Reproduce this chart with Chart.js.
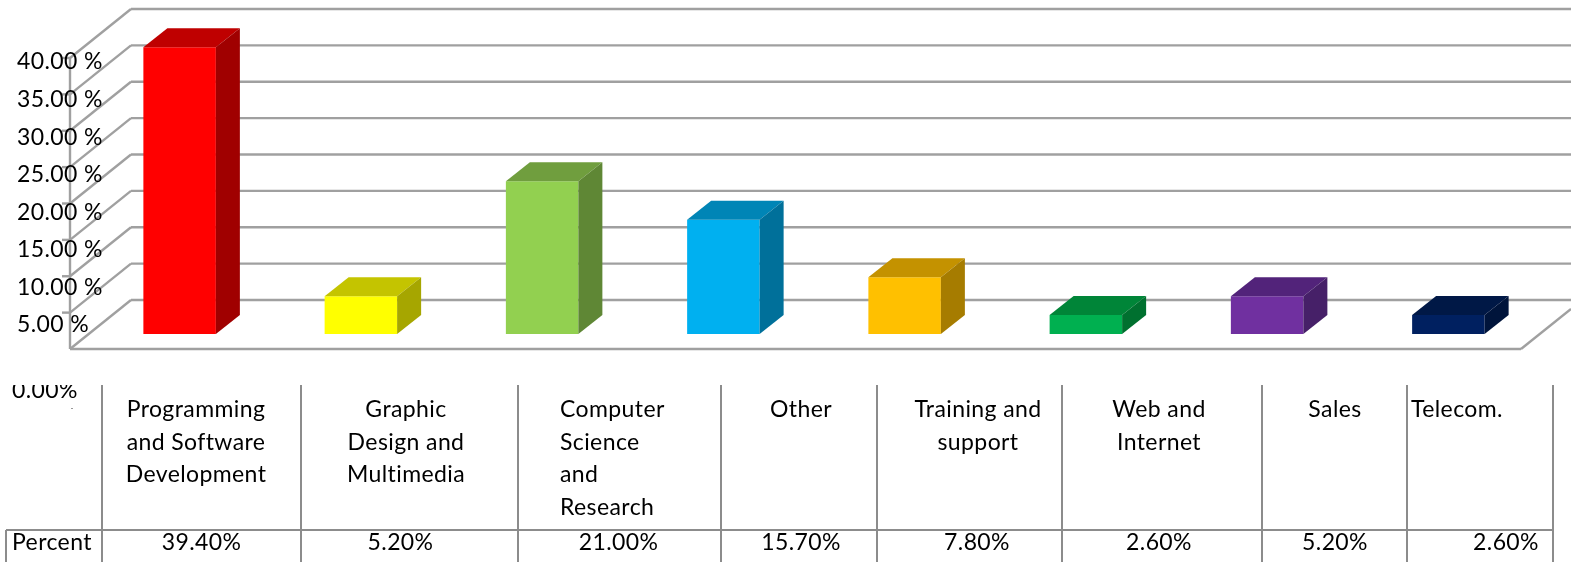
<!DOCTYPE html>
<html>
<head>
<meta charset="utf-8">
<style>html,body{margin:0;padding:0;background:#fff}canvas{display:block}</style>
<script src="https://cdn.jsdelivr.net/npm/chart.js@4"></script>
</head>
<body>
<canvas id="c" width="1571" height="562"></canvas>
<script>
const categories = ["Programming and Software Development", "Graphic Design and Multimedia", "Computer Science and Research", "Other", "Training and support", "Web and Internet", "Sales", "Telecom."];
const percents = [39.4, 5.2, 21.0, 15.7, 7.8, 2.6, 5.2, 2.6];
const barColors = ["#ff0000", "#ffff00", "#92d050", "#00b0f0", "#ffc000", "#00b050", "#7030a0", "#002060"];
const topColors = ["#bf0000", "#c4c400", "#709e3e", "#0085b6", "#c49200", "#008538", "#52237a", "#001846"];
const sideColors = ["#a00000", "#a6a600", "#5f8735", "#00709a", "#a67c00", "#00702f", "#462068", "#00143b"];
const yTicks = [5, 10, 15, 20, 25, 30, 35, 40];
const catLines = [["Programming", "and Software", "Development"], ["Graphic", "Design and", "Multimedia"], ["Computer", "Science", "and", "Research"], ["Other"], ["Training and", "support"], ["Web and", "Internet"], ["Sales"], ["Telecom."]];
const percentLabels = ["39.40%", "5.20%", "21.00%", "15.70%", "7.80%", "2.60%", "5.20%", "2.60%"];

const columnEdges = [102, 301, 518, 721, 877, 1062, 1262, 1407, 1553];
const labelCenters = [196, 406, 613, 801, 978, 1159, 1335, 1457];
const valueCenters = [201.5, 400.5, 618.5, 801, 977, 1159, 1335, 1506];
const GRID = "#a0a0a0", TABLE_LINE = "#8c8c8c";
const DEPTH_X = 24, DEPTH_Y = 19;   // bar depth
const WALL_X = 61, WALL_Y = 49;     // side wall depth
const FONT = "23px Lato";

function seg(ctx, x1, y1, x2, y2) { ctx.beginPath(); ctx.moveTo(x1, y1); ctx.lineTo(x2, y2); ctx.stroke(); }
function poly(ctx, pts, color) {
  ctx.fillStyle = color; ctx.beginPath();
  pts.forEach((p, i) => i ? ctx.lineTo(p[0], p[1]) : ctx.moveTo(p[0], p[1]));
  ctx.closePath(); ctx.fill();
}

// стенка и пол псевдо-3D
const wallsPlugin = {
  id: "walls",
  beforeDatasetsDraw(chart) {
    const { ctx } = chart, y = chart.scales.y;
    const front = (v) => y.getPixelForValue(v) + 15;
    const wallX = 70;
    ctx.save();
    ctx.strokeStyle = GRID; ctx.lineWidth = 2.4;
    seg(ctx, wallX, front(0), wallX, front(40));
    [0, ...yTicks].forEach((v) => {
      const fy = front(v);
      seg(ctx, wallX, fy, wallX + WALL_X, fy - WALL_Y);
      seg(ctx, wallX + WALL_X, fy - WALL_Y, 1571, fy - WALL_Y);
      if (v > 0) seg(ctx, wallX - 8, fy, wallX, fy);
    });
    seg(ctx, wallX, front(0), 1521, front(0));
    seg(ctx, 1521, front(0), 1571, front(0) - 40);
    ctx.restore();
  },
  afterDatasetsDraw(chart) {
    const { ctx } = chart;
    chart.getDatasetMeta(0).data.forEach((bar, i) => {
      const l = bar.x - bar.width / 2, r = bar.x + bar.width / 2, t = bar.y, b = bar.base;
      poly(ctx, [[l, t], [r, t], [r + DEPTH_X, t - DEPTH_Y], [l + DEPTH_X, t - DEPTH_Y]], topColors[i]);
      poly(ctx, [[r, t], [r + DEPTH_X, t - DEPTH_Y], [r + DEPTH_X, b - DEPTH_Y], [r, b]], sideColors[i]);
    });
  },
};

// подписи оси и таблица данных под графиком
const tablePlugin = {
  id: "table",
  afterDraw(chart) {
    const { ctx } = chart, y = chart.scales.y;
    ctx.save();
    ctx.fillStyle = "#000"; ctx.font = FONT; ctx.textBaseline = "middle";
    ctx.letterSpacing = "0.4px";
    ctx.textAlign = "left";
    yTicks.forEach((v) => {
      ctx.fillText(v.toFixed(2) + " %", 17, y.getPixelForValue(v) + 19 + (40 - v) * 0.24);
    });

    ctx.save();
    ctx.beginPath(); ctx.rect(0, 385, 100, 30); ctx.clip();
    ctx.fillText("0.00%", 12, 391);
    ctx.restore();
    ctx.fillStyle = "#999"; ctx.fillRect(71, 408, 2, 1);

    ctx.strokeStyle = TABLE_LINE; ctx.lineWidth = 2;
    columnEdges.forEach((x) => seg(ctx, x, 385, x, 562));
    seg(ctx, 6, 530, 1553, 530);
    seg(ctx, 6, 530, 6, 562);

    ctx.fillStyle = "#000";
    ctx.textAlign = "left";
    ctx.fillText("Percent", 12, 543);
    catLines.forEach((lines, i) => {
      lines.forEach((s, j) => {
        const ly = 410 + j * 32.4;
        if (i === 2) { ctx.textAlign = "left"; ctx.fillText(s, 560, ly); }
        else { ctx.textAlign = "center"; ctx.fillText(s, labelCenters[i], ly); }
      });
      ctx.textAlign = "center";
      ctx.fillText(percentLabels[i], valueCenters[i], 543);
    });
    ctx.restore();
  },
};

new Chart(document.getElementById("c"), {
  type: "bar",
  data: {
    labels: categories,
    datasets: [{ label: "Percent", data: percents, backgroundColor: barColors, borderWidth: 0, barPercentage: 0.4, categoryPercentage: 1 }],
  },
  options: {
    responsive: false,
    animation: false,
    layout: { padding: { left: 89, right: 32, top: 43, bottom: 228 } },
    plugins: { legend: { display: false }, tooltip: { enabled: false } },
    scales: {
      x: { display: false },
      y: { display: false, min: 0, max: 40 },
    },
  },
  plugins: [wallsPlugin, tablePlugin],
});
</script>
</body>
</html>
